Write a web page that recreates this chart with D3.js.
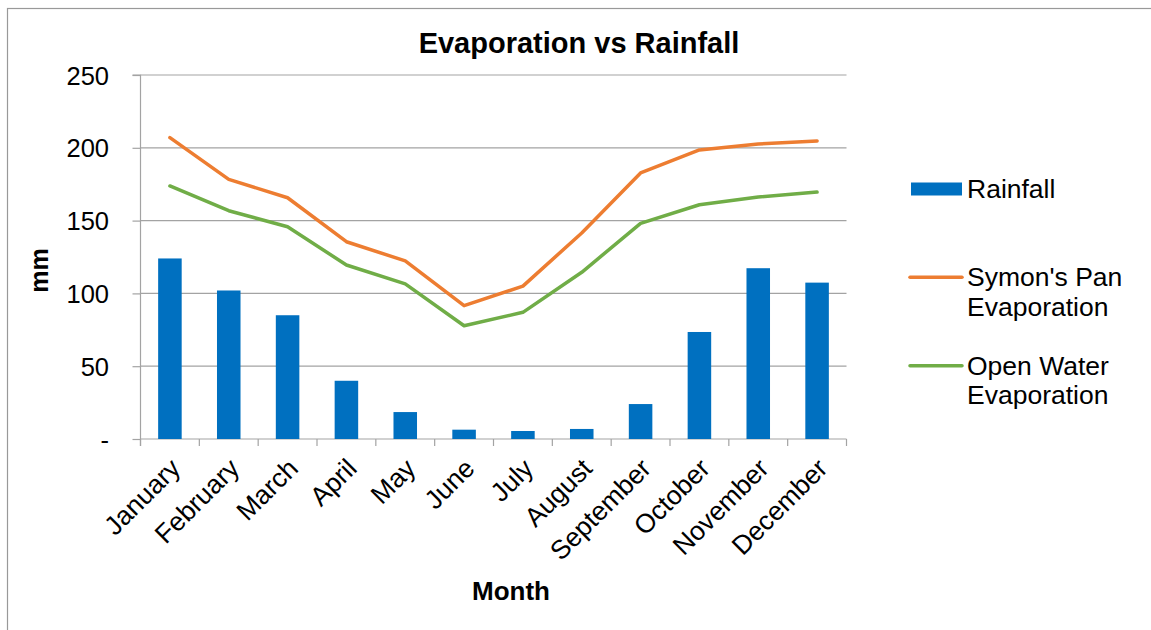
<!DOCTYPE html>
<html>
<head>
<meta charset="utf-8">
<script src="https://cdn.jsdelivr.net/npm/d3@7"></script>
<style>
  html, body { margin: 0; padding: 0; background: #fff; }
  svg { display: block; font-family: "Liberation Sans", Arial, sans-serif; }
</style>
</head>
<body>
<svg id="chart" width="1151" height="630"></svg>
<script>
const months = ["January","February","March","April","May","June","July","August","September","October","November","December"];
const rainfall = [124, 102, 85, 40, 18.5, 6.4, 5.5, 6.9, 24, 73.5, 117.3, 107.4];
const symonsPan = [207, 178.3, 165.7, 135.5, 122.3, 91.6, 105, 141.5, 182.7, 198.5, 202.6, 204.7];
const openWater = [173.8, 156.8, 145.8, 119.5, 106.5, 77.8, 87, 114.5, 148.1, 160.9, 166.2, 169.6];
const seriesNames = ["Rainfall", "Symon's Pan Evaporation", "Open Water Evaporation"];
const seriesColors = ["#0070C0", "#ED7D31", "#70AD47"];
const yTicks = [0, 50, 100, 150, 200, 250];
const yTickLabels = ["-", "50", "100", "150", "200", "250"];
const chartTitle = "Evaporation vs Rainfall";
const xTitle = "Month";
const yTitle = "mm";

const svg = d3.select("#chart");
const plot = { left: 140.5, right: 846.5, top: 75, bottom: 439 };

// outer border
svg.append("rect")
  .attr("x", 7.5).attr("y", 8.5)
  .attr("width", 1160).attr("height", 640)
  .attr("fill", "none").attr("stroke", "#999").attr("stroke-width", 1.2);

const x = d3.scaleBand().domain(months).range([plot.left, plot.right]).padding(0);
const y = d3.scaleLinear().domain([0, 250]).range([plot.bottom, plot.top]);

// gridlines
svg.append("g").selectAll("line").data(yTicks.filter(d => d > 0)).join("line")
  .attr("x1", plot.left).attr("x2", plot.right)
  .attr("y1", d => y(d)).attr("y2", d => y(d))
  .attr("stroke", "#a3a3a3").attr("stroke-width", 1.2);

// y axis
const yAxis = d3.axisLeft(y).tickValues(yTicks).tickSize(8)
  .tickFormat((d, i) => yTickLabels[i]);
const gy = svg.append("g").attr("transform", `translate(${plot.left},0)`).call(yAxis);
gy.select(".domain").attr("stroke", "#a3a3a3").attr("stroke-width", 1.2).attr("d", `M-8,${plot.top}H0V${plot.bottom + 7}`);
gy.selectAll(".tick line").attr("stroke", "#a3a3a3").attr("stroke-width", 1.2);
gy.selectAll(".tick text")
  .attr("x", -31.5).attr("dy", null).attr("y", 9)
  .attr("font-size", 25.5).attr("fill", "#000")
  .attr("font-family", "Liberation Sans, Arial, sans-serif");

// x axis baseline and ticks at band boundaries
const xAxis = d3.axisBottom(x).tickSize(0).tickFormat("");
const gx = svg.append("g").attr("transform", `translate(0,${plot.bottom})`).call(xAxis);
gx.select(".domain").attr("stroke", "#a3a3a3").attr("stroke-width", 1.2).attr("d", `M${plot.left},0H${plot.right}`);
gx.selectAll(".tick").remove();
const boundaries = months.map(m => x(m)).concat([x(months[months.length - 1]) + x.bandwidth()]);
gx.selectAll("line.bt").data(boundaries).join("line").attr("class", "bt")
  .attr("x1", d => d).attr("x2", d => d).attr("y1", 0).attr("y2", 7)
  .attr("stroke", "#a3a3a3").attr("stroke-width", 1.2);

// x labels rotated
svg.append("g").selectAll("text").data(months).join("text")
  .attr("transform", d => `translate(${x(d) + x.bandwidth() / 2 + 12},470) rotate(-45)`)
  .attr("text-anchor", "end")
  .attr("font-size", 26.5).attr("fill", "#000")
  .text(d => d);

// bars
const bw = x.bandwidth() * 0.4;
svg.append("g").selectAll("rect").data(rainfall).join("rect")
  .attr("x", (d, i) => x(months[i]) + x.bandwidth() / 2 - bw / 2)
  .attr("width", bw)
  .attr("y", d => y(d))
  .attr("height", d => y(0) - y(d))
  .attr("fill", seriesColors[0]);

// lines
const line = d3.line().x((d, i) => x(months[i]) + x.bandwidth() / 2).y(d => y(d));
[symonsPan, openWater].forEach((s, k) => {
  svg.append("path").datum(s)
    .attr("d", line)
    .attr("fill", "none")
    .attr("stroke", seriesColors[k + 1])
    .attr("stroke-width", 3.5)
    .attr("stroke-linejoin", "round")
    .attr("stroke-linecap", "round");
});

// title
svg.append("text").attr("x", 579).attr("y", 53)
  .attr("text-anchor", "middle").attr("font-size", 29).attr("font-weight", "bold")
  .text(chartTitle);

// axis titles
svg.append("text").attr("x", 511).attr("y", 600)
  .attr("text-anchor", "middle").attr("font-size", 26).attr("font-weight", "bold")
  .text(xTitle);
svg.append("text").attr("transform", "translate(48,270.5) rotate(-90)")
  .attr("text-anchor", "middle").attr("font-size", 25).attr("font-weight", "bold")
  .text(yTitle);

// legend
const legendY = [189, 277.3, 365.7];
const lg = svg.append("g");
seriesNames.forEach((name, i) => {
  const cy = legendY[i];
  if (i === 0) {
    lg.append("rect").attr("x", 911).attr("y", cy - 6.5).attr("width", 51).attr("height", 13)
      .attr("fill", seriesColors[i]);
  } else {
    lg.append("line").attr("x1", 910).attr("x2", 962).attr("y1", cy).attr("y2", cy)
      .attr("stroke", seriesColors[i]).attr("stroke-width", 3.5).attr("stroke-linecap", "round");
  }
  const t = lg.append("text").attr("x", 967).attr("y", cy + 9).attr("font-size", 26.5).attr("fill", "#000");
  // word wrap
  const words = name.split(" ");
  let lineWords = [];
  let tspan = t.append("tspan").attr("x", 967).attr("dy", 0);
  words.forEach(w => {
    lineWords.push(w);
    tspan.text(lineWords.join(" "));
    if (tspan.node().getComputedTextLength() > 178 && lineWords.length > 1) {
      lineWords.pop();
      tspan.text(lineWords.join(" "));
      lineWords = [w];
      tspan = t.append("tspan").attr("x", 967).attr("dy", 29.6).text(w);
    }
  });
});
</script>
</body>
</html>
